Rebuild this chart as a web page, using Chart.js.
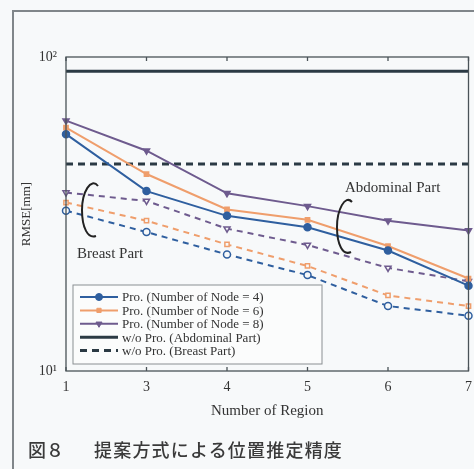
<!DOCTYPE html>
<html>
<head>
<meta charset="utf-8">
<script src="https://cdn.jsdelivr.net/npm/chart.js@4.4.1/dist/chart.umd.min.js"></script>
<style>
  html, body { margin: 0; padding: 0; background: #f7f9fa; }
  #wrap { position: relative; width: 474px; height: 469px; overflow: hidden; }
  #frame { position: absolute; left: 12px; top: 10px; width: 500px; height: 500px;
           border: 2px solid #80868a; box-sizing: border-box; }
  #chart { position: absolute; left: 0; top: 0; }
  #caption { position: absolute; left: 28px; top: 436px; font-family: "Noto Sans CJK JP", sans-serif;
             font-size: 18px; font-weight: 500; color: #3a3a3a; white-space: nowrap; }
  #caption .num { margin-right: 30px; }
  #caption .txt { letter-spacing: 1.2px; }
</style>
</head>
<body>
<div id="wrap">
  <div id="frame"></div>
  <canvas id="chart" width="474" height="469"></canvas>
  <div id="caption"><span class="num">図８</span><span class="txt">提案方式による位置推定精度</span></div>
</div>
<script>
// 領域数（2 は無し）
const regions = ["1", "3", "4", "5", "6", "7"];

// Abdominal Part（実線）
const abdNode4 = [56.8, 37.4, 31.2, 28.7, 24.2, 18.7];
const abdNode6 = [59.6, 42.4, 32.7, 30.3, 25.0, 19.7];
const abdNode8 = [62.7, 50.3, 36.8, 33.5, 30.1, 28.0];

// Breast Part（破線）
const brNode4 = [32.4, 27.7, 23.5, 20.2, 16.1, 15.0];
const brNode6 = [34.4, 30.1, 25.3, 21.6, 17.4, 16.1];
const brNode8 = [37.0, 34.8, 28.4, 25.2, 21.3, 19.3];

// 提案方式なし
const abdNoPro = [90, 90, 90, 90, 90, 90];
const brNoPro = [45.6, 45.6, 45.6, 45.6, 45.6, 45.6];

const legendLabels = [
  "Pro. (Number of Node = 4)",
  "Pro. (Number of Node = 6)",
  "Pro. (Number of Node = 8)",
  "w/o Pro. (Abdominal Part)",
  "w/o Pro. (Breast Part)",
];

const BLUE = "#2f5f9f";
const ORANGE = "#ef9e6c";
const PURPLE = "#6e5b8e";
const DARK = "#2b3a44";
const SERIF = "'Liberation Serif', 'DejaVu Serif', serif";

function solid(label, data, color, style, rot) {
  return {
    label, data, borderColor: color, backgroundColor: color, borderWidth: 2,
    pointStyle: style, pointRotation: rot || 0, pointRadius: style === "rect" ? 3 : 3.5,
    pointBorderWidth: 1.5, pointBackgroundColor: color, pointBorderColor: color,
  };
}
function dashed(data, color, style, rot) {
  return {
    label: "", data, borderColor: color, backgroundColor: color, borderWidth: 2,
    borderDash: [6, 5], pointStyle: style, pointRotation: rot || 0,
    pointRadius: style === "rect" ? 3 : 3.5, pointBorderWidth: 1.5,
    pointBackgroundColor: "#f7f9fa", pointBorderColor: color, legendSkip: true,
  };
}

const datasets = [
  solid(legendLabels[0], abdNode4, BLUE, "circle"),
  solid(legendLabels[1], abdNode6, ORANGE, "rect"),
  solid(legendLabels[2], abdNode8, PURPLE, "triangle", 180),
  {
    label: legendLabels[3], data: abdNoPro, borderColor: DARK, borderWidth: 3, pointRadius: 0,
  },
  {
    label: legendLabels[4], data: brNoPro, borderColor: DARK, borderWidth: 3,
    borderDash: [7, 5], pointRadius: 0,
  },
  dashed(brNode4, BLUE, "circle"),
  dashed(brNode6, ORANGE, "rect"),
  dashed(brNode8, PURPLE, "triangle", 180),
];

// 枠・内向き目盛・注釈・凡例
const decorations = {
  id: "decorations",
  afterDraw(chart) {
    const { ctx, chartArea: a, scales } = chart;
    ctx.save();

    // 軸の箱
    ctx.strokeStyle = "#4a5358";
    ctx.lineWidth = 1.3;
    ctx.strokeRect(a.left, a.top, a.right - a.left, a.bottom - a.top);
    ctx.beginPath();
    scales.x.ticks.forEach((t, i) => {
      const px = scales.x.getPixelForTick(i);
      ctx.moveTo(px, a.bottom); ctx.lineTo(px, a.bottom - 4);
      ctx.moveTo(px, a.top); ctx.lineTo(px, a.top + 4);
    });
    ctx.stroke();

    // 注釈
    ctx.fillStyle = "#333";
    ctx.font = "15px " + SERIF;
    ctx.textBaseline = "alphabetic";
    ctx.fillText("Abdominal Part", a.left + 279, a.top + 135);
    ctx.fillText("Breast Part", a.left + 11, a.top + 201);

    ctx.strokeStyle = "#222";
    ctx.lineWidth = 2;
    ctx.beginPath();
    ctx.moveTo(a.left + 32, a.top + 129);
    ctx.bezierCurveTo(a.left + 25, a.top + 120, a.left + 16, a.top + 135, a.left + 16, a.top + 153);
    ctx.bezierCurveTo(a.left + 16, a.top + 171, a.left + 22, a.top + 182, a.left + 30, a.top + 179);
    ctx.stroke();
    ctx.beginPath();
    ctx.moveTo(a.left + 286, a.top + 145);
    ctx.bezierCurveTo(a.left + 279, a.top + 137, a.left + 271, a.top + 153, a.left + 271, a.top + 170);
    ctx.bezierCurveTo(a.left + 271, a.top + 188, a.left + 277, a.top + 199, a.left + 285, a.top + 195);
    ctx.stroke();

    // 凡例
    const lx = a.left + 7, ly = a.top + 228, lw = 249, lh = 79;
    ctx.fillStyle = "#fbfcfc";
    ctx.fillRect(lx, ly, lw, lh);
    ctx.strokeStyle = "#8a8f92";
    ctx.lineWidth = 1;
    ctx.strokeRect(lx, ly, lw, lh);
    ctx.font = "13px " + SERIF;
    ctx.textBaseline = "middle";
    datasets.filter(d => !d.legendSkip).forEach((d, i) => {
      const y = ly + 12 + i * 13.4;
      ctx.strokeStyle = d.borderColor;
      ctx.lineWidth = d.borderWidth;
      ctx.setLineDash(d.borderDash || []);
      ctx.beginPath();
      ctx.moveTo(lx + 7, y); ctx.lineTo(lx + 45, y);
      ctx.stroke();
      ctx.setLineDash([]);
      if (d.pointRadius) {
        ctx.fillStyle = d.pointBackgroundColor;
        ctx.strokeStyle = d.pointBorderColor;
        ctx.lineWidth = 1;
        Chart.helpers.drawPoint(ctx, {
          pointStyle: d.pointStyle, radius: d.pointRadius, rotation: d.pointRotation, borderWidth: 1,
        }, lx + 26, y);
      }
      ctx.fillStyle = "#333";
      ctx.fillText(d.label, lx + 49, y + 1);
    });
    ctx.restore();
  },
};

new Chart(document.getElementById("chart"), {
  type: "line",
  data: { labels: regions, datasets },
  plugins: [decorations],
  options: {
    responsive: false,
    animation: false,
    layout: { padding: { top: 57, right: 4, bottom: 0, left: 0 } },
    plugins: { legend: { display: false }, tooltip: { enabled: false } },
    elements: { line: { tension: 0 } },
    scales: {
      x: {
        type: "category",
        offset: false,
        grid: { display: false, drawTicks: false },
        border: { display: false },
        ticks: { font: { family: SERIF, size: 14 }, color: "#333", padding: 8, maxRotation: 0 },
        title: { display: true, text: "Number of Region", font: { family: SERIF, size: 15 },
                 color: "#333", padding: { top: 0, bottom: 49 } },
        afterFit(scale) { scale.height = 98; scale.paddingRight = 0; },
      },
      y: {
        type: "logarithmic",
        min: 10,
        max: 100,
        grid: { display: false, drawTicks: false },
        border: { display: false },
        ticks: {
          font: { family: SERIF, size: 14 }, color: "#333", padding: 9, autoSkip: false,
          callback: (v) => (Math.abs(v - 100) < 1e-6 ? "10²" : Math.abs(v - 10) < 1e-6 ? "10¹" : ""),
        },
        title: { display: true, text: "RMSE[mm]", font: { family: SERIF, size: 13 },
                 color: "#333", padding: { top: 19, bottom: 0 } },
        afterFit(scale) { scale.width = 66; },
      },
    },
  },
});
</script>
</body>
</html>
